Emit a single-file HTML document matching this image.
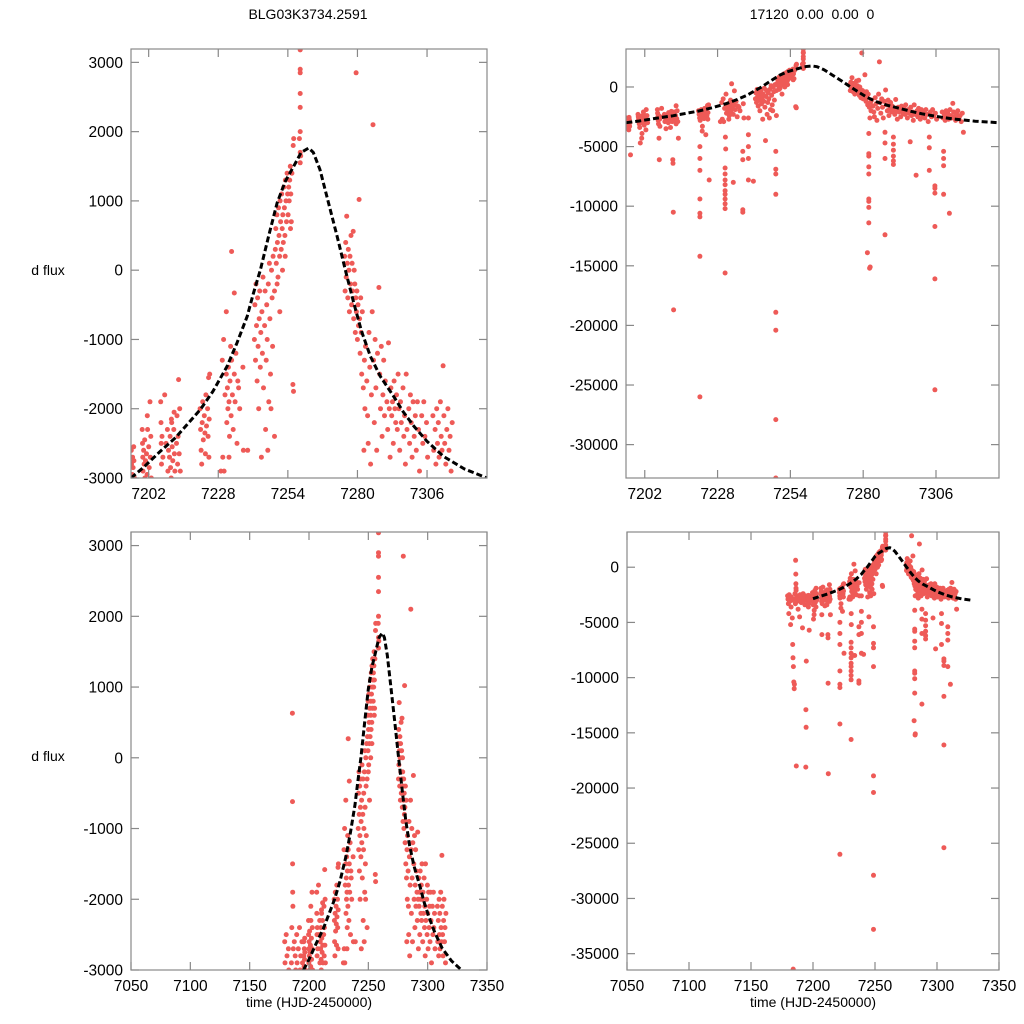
<!DOCTYPE html>
<html><head><meta charset="utf-8"><style>
html,body{margin:0;padding:0;background:#fff;width:1024px;height:1024px;overflow:hidden;position:relative}
svg{display:block;position:absolute;left:0;top:0;font-family:"Liberation Sans",sans-serif;overflow:hidden}
</style></head><body>
<svg id="chart" width="1024" height="1024" viewBox="0 0 1024 1024" xmlns="http://www.w3.org/2000/svg">
<text x="308" y="19" font-size="14" text-anchor="middle">BLG03K3734.2591</text>
<text x="812" y="19" font-size="14" text-anchor="middle" xml:space="preserve">17120  0.00  0.00  0</text>
<text x="48" y="275" font-size="14" text-anchor="middle">d flux</text>
<text x="48" y="761" font-size="14" text-anchor="middle">d flux</text>
<text x="309" y="1007" font-size="14" text-anchor="middle">time (HJD-2450000)</text>
<text x="813" y="1007" font-size="14" text-anchor="middle">time (HJD-2450000)</text>
</svg>
<script>
// observations [time, dflux]
const obs = [
[7179.5,-2600],[7179.8,-2900],[7180.2,-3300],[7180.5,-4200],[7180.8,-2500],[7181.2,-3100],[7181.5,-2800],[7181.9,-5200],[7182.3,-3600],[7182.6,-2700],[7183,-3000],[7183.3,-4600],[7183.6,-7000],[7183.9,-8200],[7184.2,-9000],[7184.5,-10400],[7184.8,-11000],[7185,-10600],[7185.2,-2900],[7185.5,-2400],[7185.8,-3300],[7186,630],[7186.1,-620],[7186.2,-1500],[7186.3,-1900],[7186.4,-2100],[7186.5,-18000],[7184,-36400],[7186.8,-2700],[7187.2,-3100],[7187.6,-2600],[7188,-3800],[7188.4,-2800],[7188.8,-3000],[7189.2,-4500],[7189.6,-2500],[7190,-2900],[7190.5,-3200],[7191,-2700],[7191.5,-5500],[7192,-2400],[7192.5,-3000],[7193,-2800],[7193.5,-3400],[7194,-2600],[7194.2,-18100],[7194.3,-12900],[7194.4,-14500],[7194.5,-2900],[7194.6,-8500],
[7195.5,-2600],[7195.6,-2800],[7195.7,-3100],[7195.8,-3400],[7195.9,-2950],[7196,-2700],[7196.1,-3200],[7196.2,-2850],[7196.3,-3600],[7196.5,-2750],[7196.7,-3000],[7196.9,-5700],[7196.4,-2550],[7196.6,-3300],
[7199.6,-2300],[7199.7,-2500],[7199.8,-2700],[7199.9,-2900],[7200,-3100],[7200.1,-2600],[7200.2,-3400],[7200.3,-2800],[7200.4,-4700],[7200.5,-2450],[7200.6,-3000],[7200.8,-2750],[7201,-3900],[7201.2,-2650],[7201.4,-2950],[7201.6,-2300],[7201.8,-3200],[7202,-2550],[7202.2,-2850],[7202.4,-3600],[7202.6,-2700],[7202.8,-2400],[7203,-3000],[7202.5,-1900],[7201.5,-2100],[7200.9,-4300],
[7206.5,-1900],[7206.6,-2200],[7206.7,-2500],[7206.8,-2800],[7206.9,-3100],[7207,-2400],[7207.1,-4300],[7207.2,-6100],[7207.3,-2700],[7207.4,-3300],[7208,-1800],[7208.5,-2500],[7209,-2300],[7209.2,-2900],[7209.4,-2600],[7209.6,-3500],[7209.8,-2700],[7210,-2400],[7210.2,-2850],[7210.4,-3000],[7210.6,-2200],[7210.8,-2550],[7211,-2750],[7211.2,-3400],[7211.4,-2300],[7211.6,-2650],[7211.8,-2900],[7212,-6100],[7212.1,-6400],[7212.2,-10500],[7212.3,-18700],[7212.4,-2500],[7212.6,-2100],[7212.8,-2800],[7213,-2400],[7213.2,-3100],[7213.4,-2650],[7213.6,-2000],[7213.8,-2900],[7213.2,-1580],[7214,-4300],[7211.5,-2050],[7210.5,-2150],
[7221.2,-2000],[7221.4,-2300],[7221.6,-2600],[7221.7,-5000],[7221.7,-6000],[7221.7,-7000],[7221.7,-9400],[7221.7,-10600],[7221.7,-10900],[7221.7,-14200],[7221.7,-26000],[7221.8,-2800],[7222,-2200],[7222.2,-1900],[7222.4,-2450],[7222.6,-3300],[7222.8,-2100],[7223,-2350],[7223.2,-2650],[7223.4,-1800],[7223.6,-2250],[7223.8,-4000],[7224,-2000],[7224.2,-2400],[7224.4,-1550],[7224.6,-2150],[7224.8,-1500],[7225,-7800],[7224.5,-2700],[7222.5,-3700],
[7229.5,-1300],[7229.7,-2700],[7230,-1000],[7230.2,-2900],[7230.5,-1800],[7230.7,-6800],[7230.7,-7300],[7230.7,-7800],[7230.7,-8200],[7230.7,-8700],[7230.7,-9000],[7230.7,-9400],[7230.7,-9800],[7230.7,-10200],[7230.7,-15600],[7230.8,-4200],[7230.9,-5200],[7231,-1500],[7231.2,-2200],[7231.4,-1700],[7231.6,-2000],[7231.8,-1400],[7232,-1900],[7232.2,-2400],[7232.4,-1600],[7232.6,-1100],[7232.8,-2100],[7233,-1300],[7233,270],[7233.3,-1800],[7233.6,-8000],[7233.6,-2300],[7234,-330],[7234,-1500],[7234.3,-1900],[7234.6,-1200],[7235,-2500],[7235.3,-1600],[7235.6,-1700],[7236,-2000],[7237,-10300],[7237,-10500],[7237,-6100],[7237,-5400],[7237.2,-1400],[7237.4,-2600],[7239,-4000],[7239,-5000],[7239,-6000],[7239,-7800],[7239,-2600],[7240.8,-7900],[7229,-2900],[7231,-600],[7232,-2700],
[7241.5,-1000],[7241.7,-500],[7241.9,-1300],[7242.1,-200],[7242.3,-800],[7242.5,-1600],[7242.7,-400],[7242.9,-1100],[7243.1,-2000],[7243.3,-700],[7243.5,-300],[7243.7,-1400],[7243.9,-900],[7244.1,-2700],[7244.3,-600],[7244.5,-1200],[7244.7,-100],[7244.9,-1700],[7245.1,-4500],[7245.3,-800],[7245.5,-300],[7245.7,-2300],[7245.9,-1300],[7246.1,-500],[7246.3,-1000],[7246.5,-2600],[7246.7,-200],[7246.9,-1900],[7247.1,100],[7247.3,-700],[7247.5,-1500],[7247.7,-2000],[7247.9,0],[7248.1,-400],[7248.3,-1100],[7248.5,200],[7248.8,-5400],[7248.8,-6900],[7248.8,-7300],[7248.8,-9000],[7248.8,-18900],[7248.8,-20400],[7248.8,-27900],[7248.8,-32800],[7249,-300],[7249,-2400],
[7249.3,300],[7249.5,600],[7249.7,100],[7249.9,800],[7250.1,400],[7250.3,-100],[7250.5,900],[7250.7,500],[7250.9,200],[7251.1,1000],[7251.3,700],[7251.5,300],[7251.7,1100],[7251.9,600],[7252.1,800],[7252.3,400],[7252.5,1200],[7252.7,900],[7252.9,500],[7253.1,1300],[7253.3,1000],[7253.5,700],[7253.7,1400],[7253.9,1100],[7254.1,800],[7254.3,1200],[7254.5,1000],[7254.7,1300],[7254.9,1500],[7255.1,1100],[7255.3,700],[7255.5,1400],[7255.9,-1650],[7256.1,-1750],[7256,1800],[7256.2,1900],[7251,-600],[7250,-200],[7252,0],[7253,200],[7255,600],
[7258.6,1550],[7258.6,1700],[7258.6,2000],[7258.6,2350],[7258.6,2550],[7258.6,2850],[7258.6,2900],[7258.6,3180],[7258.3,1900],[7258.8,1650],
[7275.2,200],[7275.4,-300],[7275.6,400],[7275.8,-100],[7276,780],[7276.2,100],[7276.4,-400],[7276.6,300],[7276.8,0],[7277,-600],[7277.2,200],[7277.4,-200],[7277.6,500],[7277.8,-500],[7278,100],[7278.2,-300],[7278.4,560],[7278.6,-700],[7278.8,0],[7279,-200],[7279.2,-900],[7279.5,2850],[7279.4,-400],[7279.6,-600],[7279.8,-300],[7280,-1000],[7280.2,-500],[7280.4,-800],[7280.6,1020],[7280.8,-700],[7281,-1200],[7281.2,-400],[7281.4,-900],[7281.6,-1500],[7281.8,-600],[7282,-3900],[7282,-5600],[7282,-5800],[7282,-6700],[7282,-7300],[7282,-9400],[7282,-9600],[7282,-10100],[7282,-11400],[7281.5,-13900],[7282.3,-15200],[7282.5,-15100],[7282.2,-1700],[7282.4,-2600],[7282.6,-1300],[7282.8,-2000],[7283,-1100],
[7283.5,-1600],[7283.8,-2100],[7284,-2500],[7284.3,-900],[7284.6,-1400],[7284.9,-2800],[7285.2,-1800],[7285.5,-600],[7285.8,2100],[7286,-1300],[7286.3,-2200],[7286.6,-1000],[7286.9,-1700],[7287.2,-2600],[7287.5,-1200],[7287.8,-3800],[7287.8,-4700],[7287.8,-6000],[7287.8,-12400],[7288,-250],[7288.3,-1500],[7288.6,-2000],[7288.9,-1100],[7289.2,-2400],[7289.5,-1800],[7289.8,-1300],[7290.1,-2100],[7290.4,-1600],[7290.8,-4200],[7290.8,-4800],[7290.8,-5300],[7290.8,-5800],[7290.8,-6200],[7290.8,-6500],[7291,-1900],[7291.3,-2300],[7291.6,-1050],[7291.9,-2000],[7292.2,-2700],
[7292.5,-1700],[7292.8,-2100],[7293.1,-1900],[7293.4,-2500],[7293.7,-1600],[7294,-2000],[7294.3,-2200],[7294.6,-1800],[7294.9,-2300],[7295.2,-1500],[7295.5,-2000],[7295.8,-2600],[7296.1,-1900],[7296.4,-2200],[7296.8,-4600],[7297,-1700],[7297.3,-2400],[7297.6,-2100],[7297.9,-2800],[7298.2,-1500],[7298.5,-2300],[7298.9,-7400],[7299.2,-2000],[7299.5,-2500],[7299.8,-1800],[7300.1,-2200],[7300.4,-2700],[7300.8,-1900],[7301.2,-2400],[7301.6,-2100],[7302,-2600],[7302.4,-1900],[7302.8,-2300],[7303.2,-2900],[7303.6,-4200],[7303.6,-5100],[7303.6,-7000],[7304,-2100],[7304.4,-2500],[7304.8,-1900],[7305.2,-2400],[7305.6,-8300],[7305.6,-8500],[7305.6,-8900],[7305.6,-11700],[7305.6,-16100],[7305.6,-25400],[7305.8,-2200],[7306.2,-2700],
[7308.2,-2100],[7308.5,-2600],[7308.7,-5400],[7308.7,-6000],[7308.7,-6600],[7308.7,-9000],[7309,-2300],[7309.3,-2800],[7309.6,-2000],[7309.9,-2500],[7310.2,-2200],[7310.5,-2700],[7310.8,-10600],[7311,-1900],[7311.3,-2400],[7311.6,-2600],[7312,-1380],[7312.3,-2100],[7312.6,-2500],[7313,-2800],[7313.4,-2300],[7313.8,-2000],[7314.2,-2600],[7314.6,-2400],[7315,-2900],[7315.4,-2200],[7315.8,-3800]
];
const obsTimes = obs.map(d => d[0]);
const obsFlux = obs.map(d => d[1]);
// model curve samples
const modelTimes = [7195.4,7200,7206.4,7212,7221.3,7226,7231.3,7235,7238.8,7241,7243.7,7247,7250,7253,7256.2,7259,7261.8,7263.5,7266,7269,7272.4,7275.5,7278.6,7281.5,7284.8,7288.5,7293.5,7297,7301,7306,7312.2,7320,7328.4];
const modelFlux = [-3000,-2850,-2613,-2420,-2012,-1750,-1387,-1050,-665,-350,0,520,970,1280,1500,1700,1764,1700,1450,1000,490,0,-470,-880,-1240,-1530,-1820,-2040,-2250,-2470,-2690,-2870,-3000];
// tick labels
const ticksXTop = [7202,7228,7254,7280,7306];
const ticksXBottom = [7050,7100,7150,7200,7250,7300,7350];
const ticksYLeft = [-3000,-2000,-1000,0,1000,2000,3000];
const ticksYTopRight = [-30000,-25000,-20000,-15000,-10000,-5000,0];
const ticksYBottomRight = [-35000,-30000,-25000,-20000,-15000,-10000,-5000,0];

const panels = [
 {name:'top-left', x0:131, x1:487, y0:49, y1:478, tmin:7195.4, tmax:7328.4, fmin:-3000, fmax:3193, xt:ticksXTop, yt:ticksYLeft, curveStart:7195},
 {name:'top-right', x0:626, x1:999, y0:49, y1:478, tmin:7195.3, tmax:7328.5, fmin:-32800, fmax:3186, xt:ticksXTop, yt:ticksYTopRight, curveStart:7195},
 {name:'bottom-left', x0:131, x1:487, y0:532, y1:970, tmin:7050, tmax:7350, fmin:-3000, fmax:3192, xt:ticksXBottom, yt:ticksYLeft, curveStart:7195},
 {name:'bottom-right', x0:627, x1:999, y0:532, y1:970, tmin:7050, tmax:7350, fmin:-36480, fmax:3190, xt:ticksXBottom, yt:ticksYBottomRight, curveStart:7200}
];
const NS='http://www.w3.org/2000/svg';
const svg=document.getElementById('chart');
function mk(tag, attrs, parent){const e=document.createElementNS(NS,tag);for(const k in attrs)e.setAttribute(k,attrs[k]);(parent||svg).appendChild(e);return e;}
panels.forEach((p,pi)=>{
  const sx=t=>p.x0+(t-p.tmin)/(p.tmax-p.tmin)*(p.x1-p.x0);
  const sy=f=>p.y1-(f-p.fmin)/(p.fmax-p.fmin)*(p.y1-p.y0);
  const g=mk('g',{});
  
  
  const cp=mk('clipPath',{id:'clip'+pi},g);
  mk('rect',{x:p.x0,y:p.y0,width:p.x1-p.x0,height:p.y1-p.y0},cp);
  const pts=mk('g',{'clip-path':'url(#clip'+pi+')',fill:'#ee5a57'},g);
  
  
  for(let i=0;i<obsTimes.length;i++){
    const t=obsTimes[i], f=obsFlux[i];
    if(t<p.tmin-1||t>p.tmax+1||f<p.fmin-300||f>p.fmax+300) continue;
    const c=mk('circle',{cx:sx(t).toFixed(1),cy:sy(f).toFixed(1),r:2.5},pts);
    
    
  }
  let d='';
  modelTimes.forEach((t,i)=>{ if(t<p.curveStart-1) return; d+=(d?'L':'M')+sx(Math.max(t,p.curveStart)).toFixed(1)+','+sy(modelFlux[i]).toFixed(1);});
  const cg=mk('g',{'clip-path':'url(#clip'+pi+')'},g);
  const path=mk('path',{d:d,fill:'none',stroke:'#000','stroke-width':3,'stroke-dasharray':'6,3','stroke-linejoin':'round'},cg);
  
  
  const frame=mk('rect',{x:p.x0,y:p.y0,width:p.x1-p.x0,height:p.y1-p.y0,fill:'none',stroke:'#888','stroke-width':1.2},g);
  
  
  p.xt.forEach(t=>{
    const x=sx(t);
    mk('line',{x1:x,x2:x,y1:p.y1,y2:p.y1-8,stroke:'#888','stroke-width':1.2},g);
    mk('line',{x1:x,x2:x,y1:p.y0,y2:p.y0+8,stroke:'#888','stroke-width':1.2},g);
    const tx=mk('text',{x:x,y:p.y1+21,'font-size':15.5,'text-anchor':'middle'},g);
    tx.textContent=t;
    
    
  });
  p.yt.forEach(f=>{
    const y=sy(f);
    mk('line',{x1:p.x0,x2:p.x0+8,y1:y,y2:y,stroke:'#888','stroke-width':1.2},g);
    mk('line',{x1:p.x1,x2:p.x1-8,y1:y,y2:y,stroke:'#888','stroke-width':1.2},g);
    const ty=mk('text',{x:p.x0-8,y:y+5.5,'font-size':15.5,'text-anchor':'end'},g);
    ty.textContent=f;
    
    
  });
});
</script>
</body></html>
